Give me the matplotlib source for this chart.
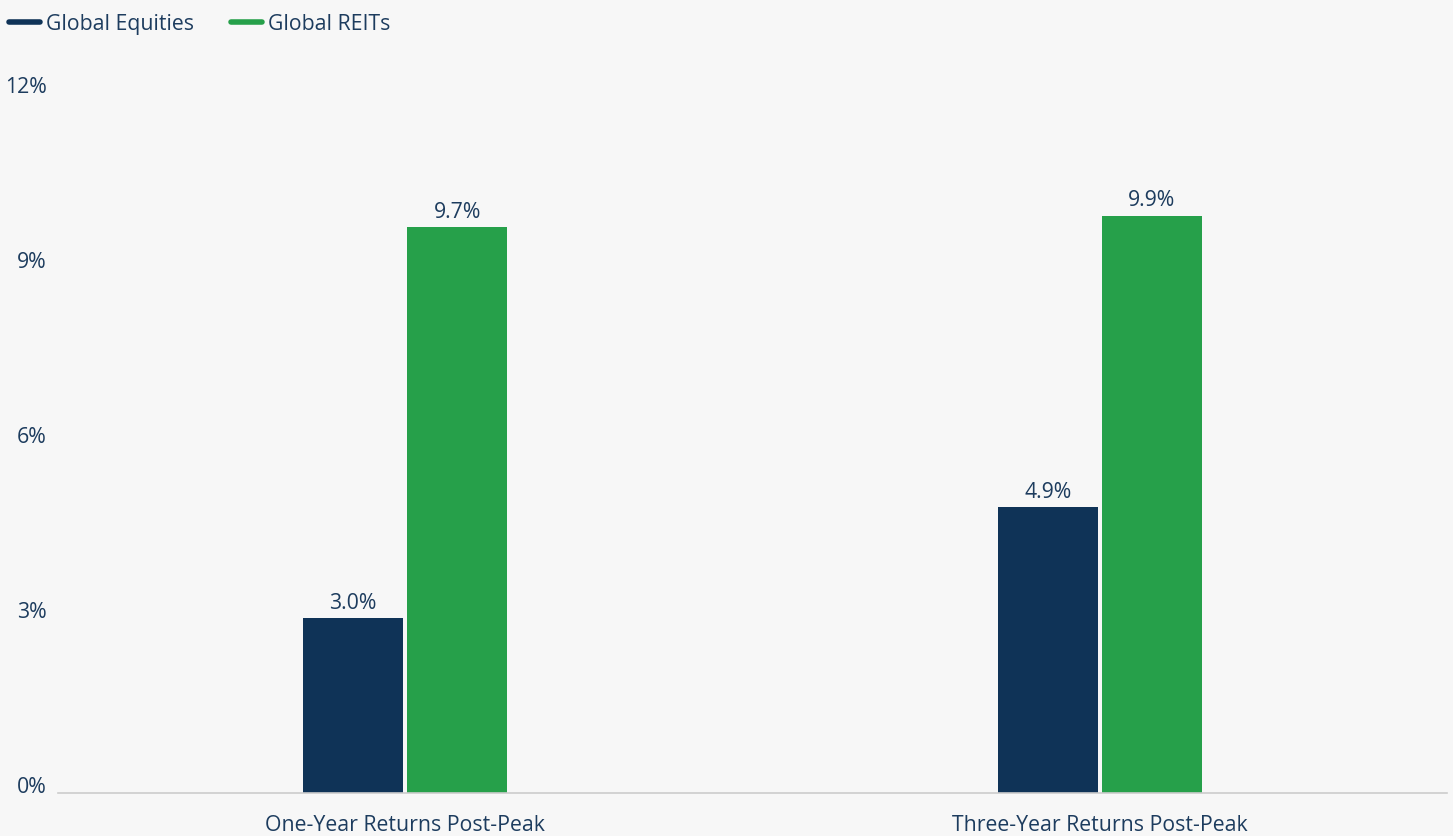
import numpy as np
import matplotlib.pyplot as plt
from matplotlib.lines import Line2D

categories = ["One-Year Returns Post-Peak", "Three-Year Returns Post-Peak"]
series_names = ["Global Equities", "Global REITs"]
equities = [3.0, 4.9]
reits = [9.7, 9.9]
yticks = [0, 3, 6, 9, 12]

navy = "#0f3357"
green = "#26a04a"
text_col = "#1d3c5e"
bg = "#f7f7f7"
fs = 15.3

plt.rcParams["font.family"] = ["Open Sans", "DejaVu Sans"]

fig = plt.figure(figsize=(14.53, 8.36), dpi=100, facecolor=bg)
ax = fig.add_axes([58 / 1453, 43 / 836, 1389 / 1453, 700 / 836], facecolor=bg)

x = np.arange(len(categories))
w = 0.144
gap = 0.003
b1 = ax.bar(x - w / 2 - gap, equities, width=w, color=navy)
b2 = ax.bar(x + w / 2 + gap, reits, width=w, color=green)

for bars, vals in [(b1, equities), (b2, reits)]:
    for b, v in zip(bars, vals):
        ax.annotate(f"{v:.1f}%", (b.get_x() + b.get_width() / 2, v),
                    xytext=(0, 6.5), textcoords="offset points",
                    ha="center", va="baseline", fontsize=fs, color=text_col)

ax.set_xlim(-0.5, 1.5)
ax.set_ylim(0, 12)
ax.set_xticks(x)
ax.set_xticklabels(categories, fontsize=fs, color=text_col)
ax.set_yticks(yticks)
ax.set_yticklabels([f"{t}%" for t in yticks], fontsize=fs, color=text_col)
ax.tick_params(axis="x", length=0, pad=16)
ax.tick_params(axis="y", length=0, pad=8)
for lbl in ax.get_yticklabels():
    lbl.set_va("baseline")
for s in ["top", "right", "left"]:
    ax.spines[s].set_visible(False)
ax.spines["bottom"].set_color("#cccccc")
ax.spines["bottom"].set_linewidth(1.2)

handles = [Line2D([0], [0], color=navy, lw=4, solid_capstyle="round"),
           Line2D([0], [0], color=green, lw=4, solid_capstyle="round")]
fig.legend(handles, series_names, loc="upper left", bbox_to_anchor=(-0.0035, 1.0),
           ncol=2, frameon=False, fontsize=fs, labelcolor=text_col,
           handlelength=1.45, handletextpad=0.3, columnspacing=1.75,
           borderaxespad=0.25)

fig.savefig("out.png", dpi=100, facecolor=bg)
